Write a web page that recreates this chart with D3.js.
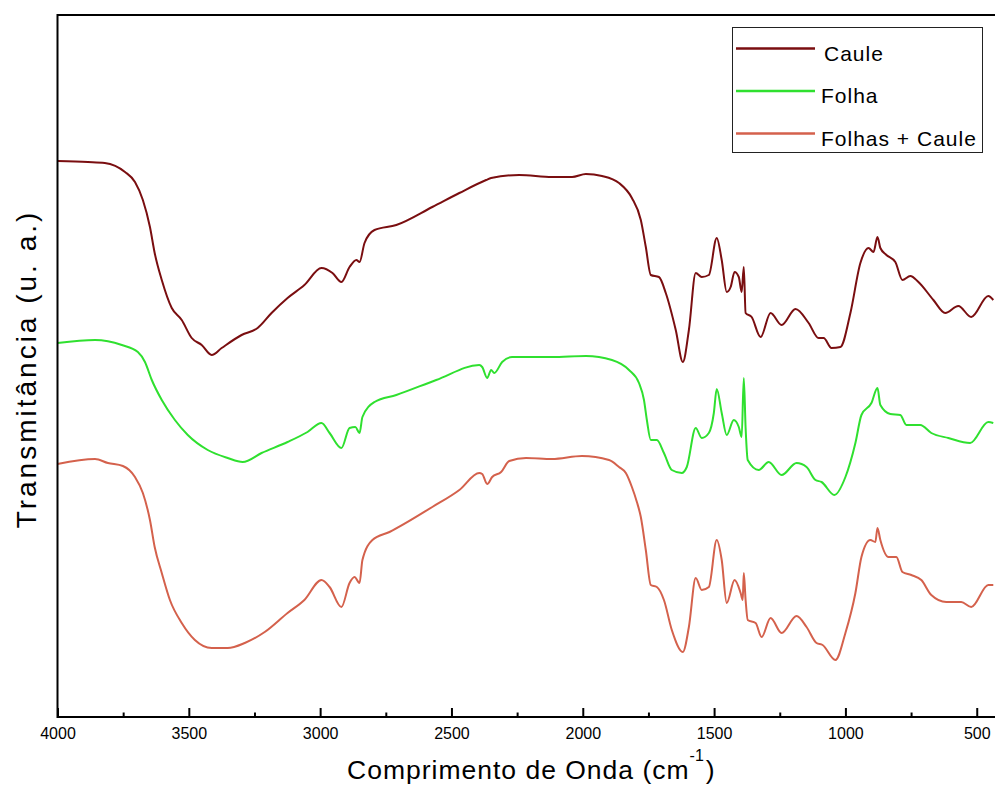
<!DOCTYPE html>
<html>
<head>
<meta charset="utf-8">
<script src="https://cdn.jsdelivr.net/npm/d3@7"></script>
<style>
  body { margin: 0; background: #fff; overflow: hidden; }
  text { font-family: Arial, "Liberation Sans", sans-serif; fill: #000; }
</style>
</head>
<body>
<div id="chart"></div>
<script>
// wavenumber (cm-1), transmittance (a.u.)
const caule = [
  [4000,556],[3884,555],[3820,554],[3743,545],[3705,535],[3675,517],[3648,490],[3630,464],
  [3603,437],[3565,409],[3527,397],[3489,379],[3451,372],[3413,362],[3375,369],[3299,382],
  [3238,389],[3185,404],[3124,419],[3060,432],[2995,449],[2953,444],[2919,435],[2888,450],
  [2862,457],[2850,455],[2831,474],[2793,487],[2710,492],[2573,510],[2470,524],[2368,537],
  [2349,539],[2242,542],[2117,540],[2041,540],[1988,543],[1927,541],[1862,534],[1813,519],
  [1779,497],[1760,470],[1741,442],[1710,440],[1684,424],[1646,387],[1619,355],[1596,387],
  [1570,444],[1547,440],[1520,442],[1490,479],[1471,457],[1452,425],[1437,430],[1422,445],
  [1406,440],[1395,425],[1387,450],[1380,404],[1357,400],[1323,380],[1285,404],[1243,392],
  [1190,408],[1140,394],[1102,379],[1083,379],[1053,369],[1019,370],[981,404],[943,454],
  [912,469],[893,465],[878,480],[867,469],[844,462],[810,455],[783,437],[753,441],
  [722,435],[665,417],[620,404],[570,411],[521,400],[456,421],[437,417]
];

const folha = [
  [4000,374],[3857,377],[3755,372],[3694,365],[3667,355],[3641,337],[3603,317],[3553,297],
  [3504,282],[3428,267],[3352,259],[3295,255],[3223,264],[3124,275],[3048,285],[2995,294],
  [2964,284],[2919,269],[2888,289],[2866,290],[2850,284],[2839,300],[2793,315],[2710,322],
  [2558,337],[2394,352],[2383,350],[2364,339],[2349,347],[2337,344],[2307,355],[2269,360],
  [2117,360],[1988,361],[1889,357],[1824,347],[1786,334],[1767,317],[1756,297],[1741,277],
  [1718,277],[1691,264],[1661,247],[1623,244],[1604,250],[1570,289],[1547,279],[1520,284],
  [1501,304],[1490,328],[1471,304],[1452,282],[1425,297],[1406,290],[1395,280],[1387,339],
  [1380,289],[1372,257],[1330,247],[1292,255],[1243,242],[1186,254],[1148,250],[1114,237],
  [1091,235],[1042,222],[1000,240],[962,274],[939,302],[901,314],[878,329],[867,312],
  [829,303],[791,302],[768,292],[715,292],[673,284],[608,279],[525,274],[456,295],[437,294]
];

const folhasCaule = [
  [4000,253],[3857,258],[3808,254],[3751,251],[3705,240],[3675,224],[3648,197],[3630,170],
  [3603,144],[3572,117],[3527,94],[3477,77],[3413,69],[3352,69],[3287,74],[3211,85],
  [3124,104],[3060,117],[2995,137],[2964,130],[2919,110],[2888,134],[2869,140],[2850,134],
  [2839,157],[2801,177],[2736,185],[2573,210],[2470,227],[2394,244],[2383,243],[2364,233],
  [2345,240],[2311,245],[2280,256],[2216,259],[2117,258],[2003,261],[1900,257],[1862,250],
  [1836,244],[1813,230],[1794,215],[1779,200],[1760,167],[1741,132],[1718,130],[1691,117],
  [1661,87],[1619,65],[1596,90],[1570,139],[1547,127],[1520,130],[1490,177],[1471,157],
  [1452,114],[1422,137],[1399,124],[1391,117],[1387,144],[1380,117],[1372,97],[1342,94],
  [1319,80],[1285,99],[1243,84],[1186,101],[1148,90],[1110,74],[1087,72],[1038,57],
  [1000,84],[962,124],[939,160],[905,177],[886,175],[878,189],[867,177],[836,160],
  [806,160],[783,145],[749,142],[711,137],[673,122],[616,115],[559,115],[521,110],
  [456,132],[437,132]
];

const seriesNames = ["Caule", "Folha", "Folhas + Caule"];
const majorTicks = [4000, 3500, 3000, 2500, 2000, 1500, 1000, 500];
const minorTicks = [3750, 3250, 2750, 2250, 1750, 1250, 750];

const colors = ["#7a0e10", "#2fe02f", "#d4614c"];
const allSeries = [caule, folha, folhasCaule];

const width = 995, height = 785;
const plotLeft = 57.5, plotRight = 1003, plotTop = 15, plotBottom = 717;

const svg = d3.select("#chart").append("svg")
    .attr("width", width)
    .attr("height", height);

const x = d3.scaleLinear().domain([4000, 400]).range([plotLeft, plotRight]);
const y = d3.scaleLinear().domain([0, 702]).range([plotBottom, plotTop]);

svg.append("clipPath").attr("id", "plot")
  .append("rect")
    .attr("x", plotLeft).attr("y", plotTop)
    .attr("width", plotRight - plotLeft).attr("height", plotBottom - plotTop);

const line = d3.line()
    .x(d => x(d[0]))
    .y(d => y(d[1]))
    .curve(d3.curveMonotoneX);

svg.append("g")
    .attr("clip-path", "url(#plot)")
  .selectAll("path")
  .data(allSeries)
  .enter().append("path")
    .attr("fill", "none")
    .attr("stroke", (d, i) => colors[i])
    .attr("stroke-width", 2)
    .attr("stroke-linejoin", "round")
    .attr("d", line);

// frame
svg.append("rect")
    .attr("x", plotLeft).attr("y", plotTop)
    .attr("width", plotRight - plotLeft).attr("height", plotBottom - plotTop)
    .attr("fill", "none")
    .attr("stroke", "#000")
    .attr("stroke-width", 2);

// ticks point inward
const xAxis = svg.append("g")
    .attr("transform", `translate(0,${plotBottom})`)
    .call(d3.axisBottom(x).tickValues(majorTicks).tickSize(-9).tickPadding(11).tickFormat(d3.format("d")));
xAxis.select(".domain").remove();
xAxis.selectAll("line").attr("stroke-width", 2);
xAxis.selectAll("text")
    .style("font-size", "16px")
    .attr("dy", "0.71em");

const xMinor = svg.append("g")
    .attr("transform", `translate(0,${plotBottom})`)
    .call(d3.axisBottom(x).tickValues(minorTicks).tickSize(-4.5).tickFormat(""));
xMinor.select(".domain").remove();
xMinor.selectAll("line").attr("stroke-width", 2);

// axis titles
const xt = svg.append("text")
    .attr("x", 347).attr("y", 779)
    .style("font-size", "26.5px")
    .style("letter-spacing", "1px")
    .text("Comprimento de Onda (cm");
xt.append("tspan").attr("dy", -18).style("font-size", "16px").style("letter-spacing", "0px").text("-1");
xt.append("tspan").attr("dy", 18).attr("dx", 2).text(")");

svg.append("text")
    .attr("transform", "translate(36,369) rotate(-90)")
    .attr("text-anchor", "middle")
    .style("font-size", "28px")
    .style("letter-spacing", "3px")
    .text("Transmitância (u. a.)");

// legend
const legend = svg.append("g");
legend.append("rect")
    .attr("x", 732.5).attr("y", 27.5)
    .attr("width", 250).attr("height", 125)
    .attr("fill", "#fff")
    .attr("stroke", "#222")
    .attr("stroke-width", 1);

const rows = legend.selectAll("g.row")
  .data(seriesNames)
  .enter().append("g")
    .attr("class", "row")
    .attr("transform", (d, i) => `translate(0,${48.5 + i * 42.5})`);

rows.append("line")
    .attr("x1", 736).attr("x2", 815)
    .attr("stroke", (d, i) => colors[i])
    .attr("stroke-width", 2.5);

rows.append("text")
    .attr("x", (d, i) => i === 0 ? 824 : 821)
    .attr("y", 12)
    .style("font-size", "21px")
    .style("letter-spacing", "1px")
    .text(d => d);
</script>
</body>
</html>
